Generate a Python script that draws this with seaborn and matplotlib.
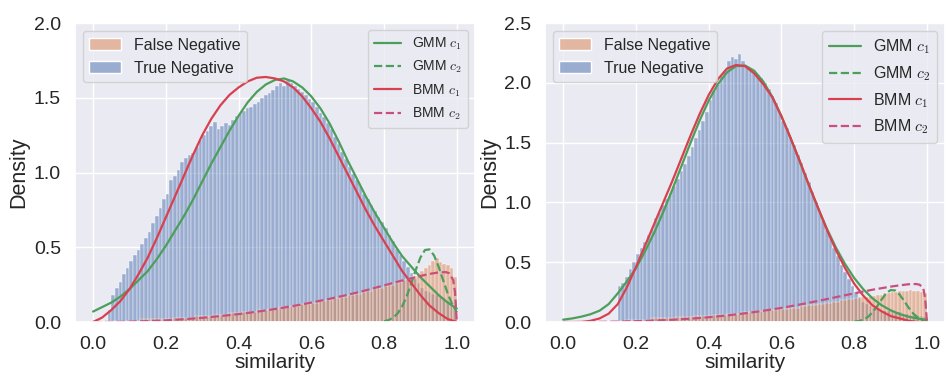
import numpy as np
import pandas as pd
import seaborn as sns
import matplotlib.pyplot as plt

sns.set_theme(style="darkgrid")
plt.rcParams['font.family'] = ['Liberation Sans', 'DejaVu Sans']
plt.rcParams['mathtext.fontset'] = 'cm'

# 100 histogram bins of width 0.01 on [0, 1]
bin_edges = np.linspace(0, 1, 101)
bin_centers = (bin_edges[:-1] + bin_edges[1:]) / 2

hist_labels = ['False Negative', 'True Negative']
curve_labels = ['GMM $c_1$', 'GMM $c_2$', 'BMM $c_1$', 'BMM $c_2$']

# ---- left panel: densities per bin ----
left_tn = [0.00, 0.00, 0.00, 0.00, 0.08, 0.18, 0.23, 0.27, 0.32, 0.36,
           0.41, 0.45, 0.48, 0.52, 0.56, 0.60, 0.66, 0.71, 0.76, 0.82,
           0.86, 0.95, 0.98, 1.02, 1.07, 1.10, 1.12, 1.13, 1.17, 1.22,
           1.25, 1.28, 1.31, 1.34, 1.29, 1.31, 1.33, 1.32, 1.35, 1.38,
           1.40, 1.41, 1.43, 1.44, 1.46, 1.47, 1.50, 1.52, 1.53, 1.55,
           1.58, 1.60, 1.58, 1.62, 1.60, 1.58, 1.56, 1.54, 1.52, 1.49,
           1.47, 1.44, 1.40, 1.37, 1.33, 1.29, 1.24, 1.19, 1.14, 1.09,
           1.04, 0.99, 0.95, 0.91, 0.86, 0.82, 0.78, 0.74, 0.70, 0.67,
           0.63, 0.58, 0.54, 0.49, 0.45, 0.41, 0.37, 0.33, 0.29, 0.26,
           0.23, 0.21, 0.20, 0.19, 0.18, 0.17, 0.16, 0.14, 0.12, 0.08]
left_fn = [0.00, 0.01, 0.01, 0.01, 0.01, 0.01, 0.01, 0.01, 0.01, 0.01,
           0.01, 0.01, 0.01, 0.02, 0.02, 0.02, 0.02, 0.02, 0.02, 0.02,
           0.02, 0.02, 0.03, 0.03, 0.03, 0.03, 0.03, 0.03, 0.04, 0.04,
           0.04, 0.04, 0.04, 0.05, 0.05, 0.05, 0.05, 0.06, 0.06, 0.06,
           0.06, 0.07, 0.07, 0.07, 0.07, 0.08, 0.08, 0.08, 0.09, 0.09,
           0.09, 0.10, 0.10, 0.10, 0.11, 0.11, 0.11, 0.12, 0.12, 0.12,
           0.13, 0.13, 0.14, 0.14, 0.15, 0.15, 0.16, 0.16, 0.17, 0.17,
           0.18, 0.18, 0.19, 0.19, 0.20, 0.21, 0.21, 0.22, 0.23, 0.23,
           0.24, 0.25, 0.25, 0.26, 0.27, 0.28, 0.29, 0.30, 0.31, 0.33,
           0.34, 0.36, 0.38, 0.41, 0.43, 0.40, 0.39, 0.38, 0.36, 0.30]

# ---- right panel ----
right_tn = [0.00, 0.00, 0.00, 0.00, 0.00, 0.00, 0.00, 0.00, 0.00, 0.00,
            0.00, 0.00, 0.00, 0.00, 0.00, 0.30, 0.33, 0.38, 0.44, 0.50,
            0.57, 0.62, 0.67, 0.73, 0.79, 0.87, 0.92, 0.98, 1.03, 1.08,
            1.14, 1.20, 1.26, 1.32, 1.39, 1.46, 1.54, 1.61, 1.68, 1.76,
            1.86, 1.93, 1.99, 2.06, 2.10, 2.18, 2.22, 2.20, 2.24, 2.18,
            2.14, 2.12, 2.10, 2.07, 2.04, 2.00, 1.95, 1.89, 1.83, 1.76,
            1.68, 1.62, 1.55, 1.48, 1.40, 1.33, 1.25, 1.17, 1.09, 1.00,
            0.92, 0.85, 0.77, 0.70, 0.62, 0.55, 0.48, 0.42, 0.36, 0.30,
            0.25, 0.21, 0.17, 0.15, 0.13, 0.12, 0.11, 0.10, 0.09, 0.09,
            0.08, 0.08, 0.08, 0.07, 0.07, 0.06, 0.06, 0.05, 0.05, 0.04]
right_fn = [0.00, 0.00, 0.00, 0.00, 0.00, 0.00, 0.01, 0.01, 0.01, 0.01,
            0.01, 0.01, 0.01, 0.01, 0.01, 0.01, 0.01, 0.02, 0.02, 0.02,
            0.02, 0.02, 0.02, 0.02, 0.03, 0.03, 0.03, 0.03, 0.03, 0.03,
            0.03, 0.04, 0.04, 0.04, 0.04, 0.04, 0.05, 0.05, 0.05, 0.05,
            0.05, 0.06, 0.06, 0.06, 0.06, 0.07, 0.07, 0.07, 0.07, 0.08,
            0.08, 0.08, 0.08, 0.09, 0.09, 0.09, 0.10, 0.10, 0.10, 0.11,
            0.11, 0.11, 0.12, 0.12, 0.12, 0.13, 0.13, 0.14, 0.14, 0.14,
            0.15, 0.15, 0.16, 0.16, 0.17, 0.17, 0.18, 0.18, 0.19, 0.19,
            0.20, 0.20, 0.21, 0.21, 0.22, 0.22, 0.23, 0.23, 0.24, 0.24,
            0.25, 0.25, 0.26, 0.26, 0.26, 0.27, 0.26, 0.26, 0.25, 0.24]

# ---- fitted mixture curves ----
curve_x = np.linspace(0, 1, 41)          # step 0.025
peak_x = np.linspace(0.8, 1.0, 17)       # step 0.0125
tail_x = [0.0, 0.05, 0.1, 0.15, 0.2, 0.25, 0.3, 0.35, 0.4, 0.45, 0.5, 0.55,
          0.6, 0.65, 0.7, 0.75, 0.8, 0.85, 0.9, 0.925, 0.95, 0.97, 0.98,
          0.99, 0.995, 1.0]

left_gmm_c1 = [0.07, 0.10, 0.13, 0.17, 0.22, 0.28, 0.34, 0.42, 0.51, 0.61,
               0.71, 0.82, 0.94, 1.06, 1.17, 1.28, 1.38, 1.47, 1.54, 1.59,
               1.62, 1.63, 1.61, 1.57, 1.51, 1.43, 1.33, 1.21, 1.08, 0.96,
               0.84, 0.73, 0.63, 0.53, 0.44, 0.37, 0.30, 0.24, 0.18, 0.13,
               0.09]
left_bmm_c1 = [0.00, 0.03, 0.08, 0.14, 0.22, 0.32, 0.43, 0.56, 0.70, 0.84,
               0.98, 1.12, 1.25, 1.36, 1.45, 1.52, 1.57, 1.61, 1.635, 1.64,
               1.63, 1.61, 1.57, 1.51, 1.43, 1.34, 1.23, 1.11, 0.99, 0.87,
               0.75, 0.64, 0.54, 0.44, 0.34, 0.26, 0.18, 0.11, 0.06, 0.02,
               0.00]
left_gmm_c2 = [0.005, 0.013, 0.029, 0.058, 0.106, 0.174, 0.260, 0.352, 0.432,
               0.482, 0.486, 0.445, 0.370, 0.279, 0.190, 0.118, 0.066]
left_bmm_c2 = [0.0, 0.0005, 0.0024, 0.006, 0.011, 0.019, 0.028, 0.040, 0.053,
               0.069, 0.087, 0.107, 0.130, 0.155, 0.182, 0.212, 0.245, 0.278,
               0.308, 0.322, 0.332, 0.334, 0.325, 0.28, 0.20, 0.0]

right_gmm_c1 = [0.020, 0.030, 0.045, 0.065, 0.095, 0.150, 0.240, 0.340, 0.450,
                0.592, 0.746, 0.920, 1.108, 1.304, 1.500, 1.686, 1.853, 1.989,
                2.088, 2.141, 2.146, 2.102, 2.012, 1.883, 1.721, 1.539, 1.344,
                1.147, 0.957, 0.780, 0.621, 0.484, 0.368, 0.274, 0.199, 0.141,
                0.098, 0.067, 0.044, 0.029, 0.018]
right_bmm_c1 = [0.00, 0.00, 0.00, 0.01, 0.03, 0.07, 0.15, 0.29, 0.46, 0.64,
                0.82, 1.00, 1.18, 1.37, 1.56, 1.74, 1.90, 2.03, 2.12, 2.15,
                2.14, 2.08, 1.99, 1.88, 1.72, 1.54, 1.35, 1.15, 0.96, 0.77,
                0.60, 0.45, 0.32, 0.22, 0.14, 0.09, 0.05, 0.03, 0.01, 0.00,
                0.00]
right_gmm_c2 = [0.003, 0.008, 0.020, 0.042, 0.079, 0.129, 0.187, 0.238, 0.267,
                0.264, 0.229, 0.175, 0.118, 0.070, 0.037, 0.017, 0.007]
right_bmm_c2 = [0.0, 0.0, 0.001, 0.003, 0.007, 0.012, 0.019, 0.028, 0.040,
                0.055, 0.073, 0.094, 0.118, 0.146, 0.176, 0.208, 0.240, 0.270,
                0.296, 0.307, 0.316, 0.318, 0.312, 0.28, 0.20, 0.0]

hist_colors = ['#DD8452', '#4C72B0']
green = '#4C9F5A'
red = '#D9404F'
pink = '#C94F7C'


def draw_panel(ax, tn, fn, gmm1, gmm2, bmm1, bmm2, ymax, curve_fs):
    df = pd.DataFrame({
        'similarity': np.concatenate([bin_centers, bin_centers]),
        'density': fn + tn,
        'kind': [hist_labels[0]] * 100 + [hist_labels[1]] * 100,
    })
    sns.histplot(data=df, x='similarity', weights='density', hue='kind',
                 hue_order=hist_labels, palette=hist_colors,
                 bins=list(bin_edges), stat='count', alpha=0.5, ax=ax)
    sns.move_legend(ax, 'upper left', title=None, fontsize=11.5)
    hist_leg = ax.get_legend()

    lines = []
    for x, y, color, ls, label in [(curve_x, gmm1, green, '-', curve_labels[0]),
                                   (peak_x, gmm2, green, '--', curve_labels[1]),
                                   (curve_x, bmm1, red, '-', curve_labels[2]),
                                   (tail_x, bmm2, pink, '--', curve_labels[3])]:
        sns.lineplot(x=x, y=y, color=color, linestyle=ls, lw=1.6,
                     label=label, legend=False, ax=ax)
        lines.append(ax.lines[-1])

    ax.add_artist(hist_leg)
    ax.legend(handles=lines, loc='upper right', fontsize=curve_fs)

    ax.set_xlim(-0.05, 1.05)
    ax.set_ylim(0, ymax)
    ax.set_xticks([0.0, 0.2, 0.4, 0.6, 0.8, 1.0])
    ax.set_yticks(np.arange(0, ymax + 0.01, 0.5))
    ax.set_xlabel('similarity', fontsize=15, labelpad=0)
    ax.set_ylabel('Density', fontsize=15.5, labelpad=3)
    ax.tick_params(labelsize=14, pad=4)


fig, axes = plt.subplots(1, 2, figsize=(9.48, 3.74), dpi=100)
fig.subplots_adjust(left=0.079, right=0.997, bottom=0.139, top=0.938, wspace=0.175)

draw_panel(axes[0], left_tn, left_fn, left_gmm_c1, left_gmm_c2,
           left_bmm_c1, left_bmm_c2, 2.0, 10)
draw_panel(axes[1], right_tn, right_fn, right_gmm_c1, right_gmm_c2,
           right_bmm_c1, right_bmm_c2, 2.5, 11.5)

fig.savefig('out.png', dpi=100)
